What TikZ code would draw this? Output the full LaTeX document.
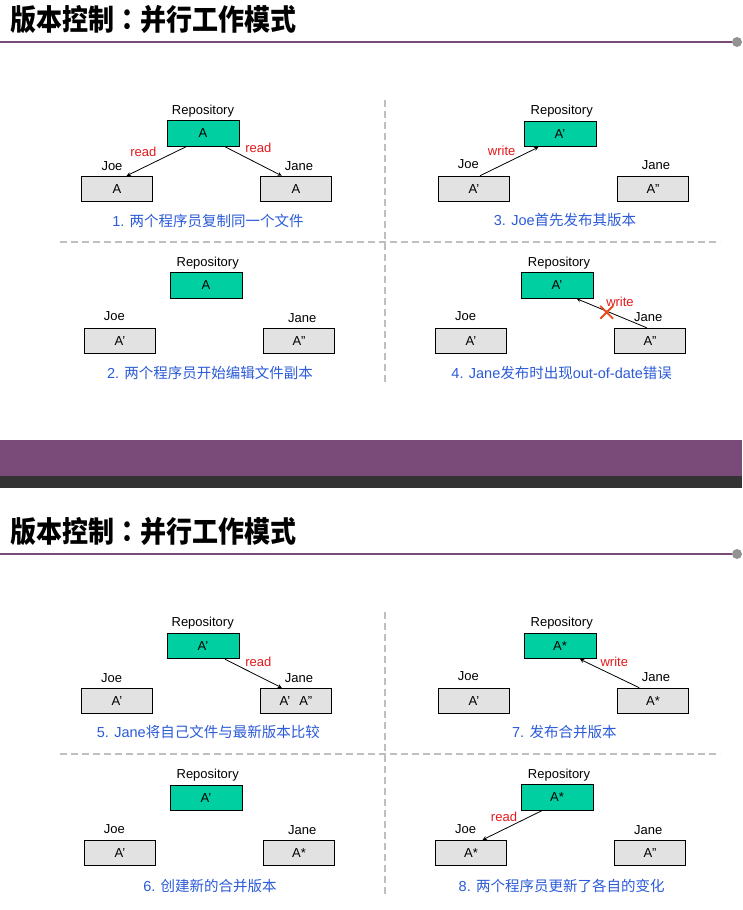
\documentclass[tikz,border=0pt]{standalone}
\usepackage{fontspec}
\setmainfont{Liberation Sans}
\newfontfamily\cjk{Noto Sans CJK SC}
\newfontfamily\cjkjp{Noto Sans CJK JP}
\usetikzlibrary{arrows,shapes.misc}

\definecolor{repogreen}{HTML}{00CFA2}
\definecolor{copygrey}{HTML}{E2E2E2}
\definecolor{slidepurple}{HTML}{7A4A78}
\definecolor{darkbar}{HTML}{333333}
\definecolor{capblue}{HTML}{2B5BD8}
\definecolor{actred}{HTML}{E4191C}
\definecolor{crossred}{HTML}{EA4A1E}

\tikzset{
  repo/.style={draw, line width=1pt, fill=repogreen, minimum width=72pt, minimum height=25.5pt, inner sep=0pt, font=\fontsize{13}{15}\selectfont},
  wcopy/.style={draw, line width=1pt, fill=copygrey, minimum width=71pt, minimum height=25.5pt, inner sep=0pt, font=\fontsize{13}{15}\selectfont},
  who/.style={inner sep=0pt, font=\fontsize{13}{15}\selectfont},
  act/.style={inner sep=0pt, text=actred, font=\fontsize{13}{15}\selectfont},
  caption/.style={inner sep=0pt, text=capblue, font=\fontsize{14.5}{17}\selectfont},
  slidetitle/.style={inner sep=0pt, anchor=west, font=\fontsize{26}{30}\selectfont\cjk\bfseries},
  divider/.style={draw=gray!50, line width=1.4pt, dash pattern=on 7pt off 4pt},
  flow/.style={-stealth, line width=0.8pt}
}

\begin{document}
\begin{tikzpicture}[x=1pt, y=-1pt]
  \path [use as bounding box, fill=white] (0,0) rectangle (742,910);

  % headers and quadrant lines of both slides
  \foreach \s in {0,512} {
    \node (title\s) [slidetitle] at (10,20+\s) {\scalebox{1}[1.12]{版本控制{\cjkjp\bfseries ：}并行工作模式}};
    \coordinate (rule\s) at (0,42+\s);
    \node (dot\s) [circle, fill=gray!85, minimum size=10pt, inner sep=0pt] at (737,42+\s) {};
    \draw [slidepurple, line width=2pt] (rule\s) -- (dot\s.west);
    \coordinate (vtop\s) at (385,100+\s);
    \coordinate (vbot\s) at (385,382+\s);
    \coordinate (hl\s) at (60,242+\s);
    \coordinate (hr\s) at (720,242+\s);
    \draw [divider] (vtop\s) -- (vbot\s);
    \draw [divider] (hl\s) -- (hr\s);
  }

  % band between the slides
  \fill [slidepurple] (0,440) rectangle (742,476);
  \fill [darkbar] (0,476) rectangle (742,488);

  % 1
  \node (rl1) [who] at (203,110.7) {Repository};
  \node (r1) [repo] at (203,133.5) {A};
  \node (joel1) [who] at (112,166) {Joe};
  \node (joe1) [wcopy] at (117,189) {A};
  \node (janel1) [who] at (299,166) {Jane};
  \node (jane1) [wcopy] at (296,189) {A};
  \node (rd1a) [act] at (143.3,151.7) {read};
  \node (rd1b) [act] at (258.3,148.3) {read};
  \node (cap1) [caption] at (208,221) {1. {\cjk 两个程序员复制同一个文件}};
  \path [flow]
    ([xshift=-17pt]r1.south) edge ([xshift=9.7pt]joe1.north)
    ([xshift=22pt]r1.south) edge ([xshift=-14.3pt]jane1.north);

  % 2
  \node (rl2) [who] at (207.7,262.7) {Repository};
  \node (r2) [repo] at (206,285.5) {A};
  \node (joel2) [who] at (114.3,315.7) {Joe};
  \node (joe2) [wcopy] at (120,341) {A'};
  \node (janel2) [who] at (302.3,317.7) {Jane};
  \node (jane2) [wcopy] at (299,341) {A''};
  \node (cap2) [caption] at (210,372.7) {2. {\cjk 两个程序员开始编辑文件副本}};

  % 3
  \node (rl3) [who] at (561.7,110.7) {Repository};
  \node (r3) [repo] at (560,134) {A'};
  \node (joel3) [who] at (468.3,164) {Joe};
  \node (joe3) [wcopy] at (474,189) {A'};
  \node (janel3) [who] at (656,165) {Jane};
  \node (jane3) [wcopy] at (653,189) {A''};
  \node (wr3) [act] at (501.7,150.7) {write};
  \node (cap3) [caption] at (565,220) {3. Joe{\cjk 首先发布其版本}};
  \path [flow]
    ([xshift=6pt]joe3.north) edge ([xshift=-21.7pt]r3.south);

  % 4
  \node (rl4) [who] at (559,262.7) {Repository};
  \node (r4) [repo] at (557,285.5) {A'};
  \node (joel4) [who] at (465.7,315.7) {Joe};
  \node (joe4) [wcopy] at (471,341) {A'};
  \node (janel4) [who] at (648.3,316.7) {Jane};
  \node (jane4) [wcopy] at (650,341) {A''};
  \node (wr4) [act] at (620,302.3) {write};
  \node (cap4) [caption] at (561.7,372.7) {4. Jane{\cjk 发布时出现}out-of-date{\cjk 错误}};
  \path [flow]
    ([xshift=-3.3pt]jane4.north) edge ([xshift=19.7pt]r4.south);
  \node (no4) [cross out, draw=crossred, line width=1.8pt, minimum size=11pt, inner sep=0pt] at (606.7,312.3) {};

  % 5
  \node (rl5) [who] at (202.7,622.7) {Repository};
  \node (r5) [repo] at (203,646) {A'};
  \node (joel5) [who] at (111.7,678.3) {Joe};
  \node (joe5) [wcopy] at (117,701) {A'};
  \node (janel5) [who] at (299,678) {Jane};
  \node (jane5) [wcopy] at (296,701) {A'\hspace{9pt}A''};
  \node (rd5) [act] at (258.3,661.7) {read};
  \node (cap5) [caption] at (208.3,731.7) {5. Jane{\cjk 将自己文件与最新版本比较}};
  \path [flow]
    ([xshift=22pt]r5.south) edge ([xshift=-14.3pt]jane5.north);

  % 6
  \node (rl6) [who] at (207.7,775) {Repository};
  \node (r6) [repo] at (206,798) {A'};
  \node (joel6) [who] at (114.3,829) {Joe};
  \node (joe6) [wcopy] at (120,853) {A'};
  \node (janel6) [who] at (302.3,830) {Jane};
  \node (jane6) [wcopy] at (299,853) {A*};
  \node (cap6) [caption] at (210,886) {6. {\cjk 创建新的合并版本}};

  % 7
  \node (rl7) [who] at (561.7,622.7) {Repository};
  \node (r7) [repo] at (560,646) {A*};
  \node (joel7) [who] at (468.3,676) {Joe};
  \node (joe7) [wcopy] at (474,701) {A'};
  \node (janel7) [who] at (656,677.3) {Jane};
  \node (jane7) [wcopy] at (653,701) {A*};
  \node (wr7) [act] at (614.3,661.7) {write};
  \node (cap7) [caption] at (564.3,731.7) {7. {\cjk 发布合并版本}};
  \path [flow]
    ([xshift=-13.7pt]jane7.north) edge ([xshift=20pt]r7.south);

  % 8
  \node (rl8) [who] at (559,775) {Repository};
  \node (r8) [repo] at (557,797.5) {A*};
  \node (joel8) [who] at (465.7,829) {Joe};
  \node (joe8) [wcopy] at (471,853) {A*};
  \node (janel8) [who] at (648.3,829.7) {Jane};
  \node (jane8) [wcopy] at (650,853) {A''};
  \node (rd8) [act] at (504,816.7) {read};
  \node (cap8) [caption] at (561.7,886) {8. {\cjk 两个程序员更新了各自的变化}};
  \path [flow]
    ([xshift=-15.3pt]r8.south) edge ([xshift=11.7pt]joe8.north);
\end{tikzpicture}
\end{document}
